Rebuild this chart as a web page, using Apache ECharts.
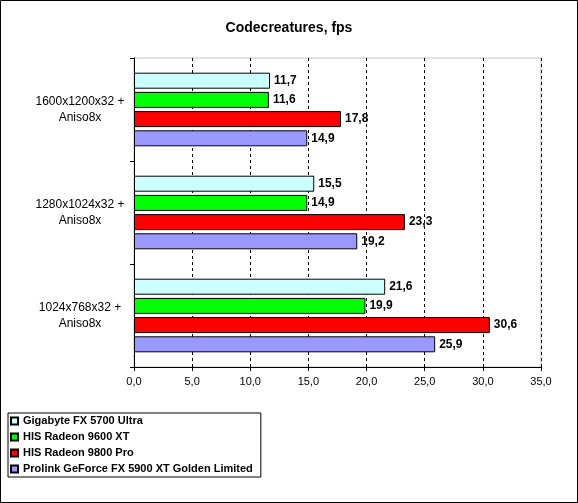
<!DOCTYPE html>
<html>
<head>
<meta charset="utf-8">
<script src="https://cdn.jsdelivr.net/npm/echarts@6/dist/echarts.min.js"></script>
<style>
  html, body { margin: 0; padding: 0; background: #fff; }
  #chart { width: 578px; height: 503px; }
</style>
</head>
<body>
<div id="chart"></div>
<script>
// categories listed bottom -> top (category axis grows upward)
var categories = ['1024x768x32 +\nAniso8x', '1280x1024x32 +\nAniso8x', '1600x1200x32 +\nAniso8x'];
var seriesNames = ['Gigabyte FX 5700 Ultra', 'HIS Radeon 9600 XT', 'HIS Radeon 9800 Pro', 'Prolink GeForce FX 5900 XT Golden Limited'];
var seriesColors = ['#ccffff', '#00ff00', '#ff0000', '#9999ff'];
// values per series, same order as categories
var gigabyte = [21.6, 15.5, 11.7];
var radeon9600 = [19.9, 14.9, 11.6];
var radeon9800 = [30.6, 23.3, 17.8];
var prolink = [25.9, 19.2, 14.9];
var xTicks = [0, 35, 5];

var values = [gigabyte, radeon9600, radeon9800, prolink];
function fmt(v) { return v.toFixed(1).replace('.', ','); }

var chart = echarts.init(document.getElementById('chart'), null, { renderer: 'canvas' });

var series = values.map(function (vals, i) {
    return {
        name: seriesNames[i],
        type: 'bar',
        data: vals,
        barWidth: 16,
        barGap: '20%',
        itemStyle: { color: seriesColors[i], borderColor: '#000', borderWidth: 1 },
        label: {
            show: true,
            position: 'right',
            distance: 4,
            color: '#000',
            fontFamily: 'Liberation Sans, Arial',
            fontWeight: 'bold',
            fontSize: 12,
            formatter: function (p) { return fmt(p.value); }
        }
    };
});

chart.setOption({
    animation: false,
    backgroundColor: '#fff',
    textStyle: { fontFamily: 'Liberation Sans, Arial' },
    title: {
        text: 'Codecreatures, fps',
        left: 'center',
        top: 16,
        textStyle: { fontSize: 14, fontWeight: 'bold', color: '#000', fontFamily: 'Liberation Sans, Arial' }
    },
    graphic: [{
        type: 'rect',
        shape: { x: 0.5, y: 0.5, width: 577, height: 502 },
        style: { fill: null, stroke: '#000', lineWidth: 1 },
        silent: true
    }],
    legend: {
        data: seriesNames,
        orient: 'vertical',
        left: 8,
        top: 413,
        icon: 'rect',
        itemWidth: 7,
        itemHeight: 7,
        itemGap: 0,
        padding: [0, 8, 0, 2],
        borderColor: '#000',
        borderWidth: 1,
        textStyle: { fontSize: 11, fontWeight: 'bold', color: '#000', lineHeight: 16, fontFamily: 'Liberation Sans, Arial' }
    },
    grid: {
        left: 134,
        right: 37,
        top: 58,
        bottom: 136,
        show: true,
        borderColor: '#c0c0c0',
        borderWidth: 1,
        containLabel: false
    },
    xAxis: {
        type: 'value',
        min: xTicks[0],
        max: xTicks[1],
        interval: xTicks[2],
        axisLine: { show: true, lineStyle: { color: '#000' } },
        axisTick: { show: true, length: 4, lineStyle: { color: '#000' } },
        axisLabel: { color: '#000', fontSize: 11, margin: 9, formatter: function (v) { return fmt(v); } },
        splitLine: { show: true, lineStyle: { color: '#000', type: [3, 3] } }
    },
    yAxis: {
        type: 'category',
        data: categories,
        axisLine: { show: true, lineStyle: { color: '#000' } },
        axisTick: { show: true, length: 4, lineStyle: { color: '#000' } },
        axisLabel: { color: '#000', fontSize: 12, lineHeight: 16, align: 'center', margin: 54 },
        splitLine: { show: false }
    },
    series: series
});
</script>
</body>
</html>
